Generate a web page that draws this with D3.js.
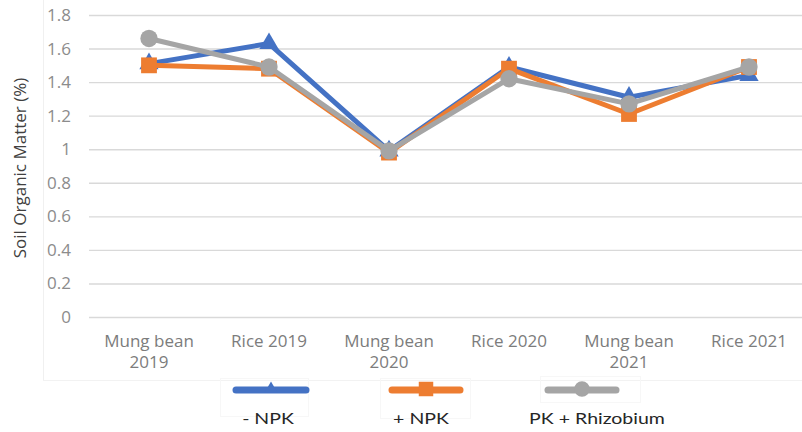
<!DOCTYPE html>
<html>
<head>
<meta charset="utf-8">
<script src="https://cdn.jsdelivr.net/npm/d3@7"></script>
<style>
  body { margin: 0; background: #fff; }
  svg { display: block; }
</style>
</head>
<body>
<svg id="chart" width="802" height="432"></svg>
<script>
// Crop seasons along the x axis (two-line labels)
const categories = ["Mung bean 2019", "Rice 2019", "Mung bean 2020", "Rice 2020", "Mung bean 2021", "Rice 2021"];
const categoryLines = [["Mung bean", "2019"], ["Rice 2019"], ["Mung bean", "2020"], ["Rice 2020"], ["Mung bean", "2021"], ["Rice 2021"]];

// Soil organic matter (%) per treatment
const minusNPK = [1.51, 1.63, 0.99, 1.49, 1.31, 1.44];
const plusNPK = [1.50, 1.48, 0.98, 1.48, 1.21, 1.49];
const pkRhizobium = [1.66, 1.49, 0.99, 1.42, 1.27, 1.49];

const seriesNames = ["- NPK", "+ NPK", "PK + Rhizobium"];
const yTicks = [0, 0.2, 0.4, 0.6, 0.8, 1, 1.2, 1.4, 1.6, 1.8];

const series = [
  { name: seriesNames[0], values: minusNPK, color: "#4472C4", symbol: d3.symbolTriangle, size: 160, legendSize: 75 },
  { name: seriesNames[1], values: plusNPK, color: "#ED7D31", symbol: d3.symbolSquare, size: 250, legendSize: 210 },
  { name: seriesNames[2], values: pkRhizobium, color: "#A5A5A5", symbol: d3.symbolCircle, size: 235, legendSize: 190 }
];

const svg = d3.select("#chart");
const plotLeft = 89, plotRight = 809, plotTop = 15, plotBottom = 317;

const x = d3.scaleBand().domain(categories).range([plotLeft, plotRight]).padding(0);
const y = d3.scaleLinear().domain([0, 1.8]).range([plotBottom, plotTop]);

// faint chart-area border
svg.append("line").attr("x1", 43.5).attr("x2", 43.5).attr("y1", 0).attr("y2", 381)
  .attr("stroke", "#f0f0f0").attr("stroke-width", 1);
svg.append("line").attr("x1", 43).attr("x2", 802).attr("y1", 380.5).attr("y2", 380.5)
  .attr("stroke", "#f2f2f2").attr("stroke-width", 1);

// horizontal gridlines + y tick labels
const yAxis = d3.axisLeft(y).tickValues(yTicks).tickSize(-(802 - plotLeft)).tickFormat(d => d3.format("")(d));
const gy = svg.append("g").attr("transform", `translate(${plotLeft},0)`).call(yAxis);
gy.select(".domain").remove();
gy.selectAll(".tick line").attr("stroke", "#d9d9d9").attr("stroke-width", 1.4);
gy.selectAll(".tick text")
  .attr("x", -18)
  .attr("fill", "#8c8c8c")
  .style("font-family", "'Open Sans', sans-serif")
  .style("font-size", "17px");

// x category labels
const xAxis = d3.axisBottom(x).tickSize(0).tickFormat("");
const gx = svg.append("g").attr("transform", `translate(0,${plotBottom})`).call(xAxis);
gx.select(".domain").remove();
gx.selectAll(".tick").each(function(d, i) {
  const t = d3.select(this).append("text")
    .attr("text-anchor", "middle")
    .attr("fill", "#7c7c7c")
    .style("font-family", "'Open Sans', sans-serif")
    .style("font-size", "17px");
  categoryLines[i].forEach((ln, j) => {
    t.append("tspan").attr("x", 0).attr("y", 30 + j * 21).text(ln);
  });
});

// y axis title
svg.append("text")
  .attr("transform", `translate(26,${(plotTop + plotBottom) / 2 + 2}) rotate(-90)`)
  .attr("text-anchor", "middle")
  .attr("fill", "#404040")
  .style("font-family", "'Open Sans', sans-serif")
  .style("font-size", "17px")
  .text("Soil Organic Matter (%)");

const cx = d => x(d) + x.bandwidth() / 2;
const line = d3.line().x((v, i) => cx(categories[i])).y(v => y(v));

// series lines and markers
series.forEach(s => {
  const g = svg.append("g");
  g.append("path").datum(s.values)
    .attr("d", line)
    .attr("fill", "none")
    .attr("stroke", s.color)
    .attr("stroke-width", 5)
    .attr("stroke-linejoin", "round");
  g.selectAll("path.m").data(s.values).join("path")
    .attr("class", "m")
    .attr("d", d3.symbol().type(s.symbol).size(s.size))
    .attr("transform", (v, i) => `translate(${cx(categories[i])},${y(v)})`)
    .attr("fill", s.color);
});

// legend
const legendItems = [
  { lx1: 236, lx2: 306, tx: 268, box: [220, 378, 88, 38] },
  { lx1: 392, lx2: 460, tx: 421, box: [380, 378, 90, 40] },
  { lx1: 548, lx2: 616, tx: 597, box: [540, 376, 100, 26] }
];
const lg = svg.append("g");
series.forEach((s, i) => {
  const p = legendItems[i];
  const ly = 390;
  lg.append("rect")
    .attr("x", p.box[0] + 0.5).attr("y", p.box[1] + 0.5)
    .attr("width", p.box[2]).attr("height", p.box[3])
    .attr("fill", "none").attr("stroke", "#f7f7f7");
  lg.append("line")
    .attr("x1", p.lx1).attr("x2", p.lx2).attr("y1", ly).attr("y2", ly)
    .attr("stroke", s.color).attr("stroke-width", 7).attr("stroke-linecap", "round");
  lg.append("path")
    .attr("d", d3.symbol().type(s.symbol).size(s.legendSize))
    .attr("transform", `translate(${(p.lx1 + p.lx2) / 2},${ly - 1})`)
    .attr("fill", s.color);
  lg.append("text")
    .attr("transform", `translate(${p.tx},424) scale(1.22,1)`)
    .attr("text-anchor", "middle")
    .attr("fill", "#262626")
    .style("font-family", "Lato, sans-serif")
    .style("font-size", "16px")
    .text(s.name);
});
</script>
</body>
</html>
